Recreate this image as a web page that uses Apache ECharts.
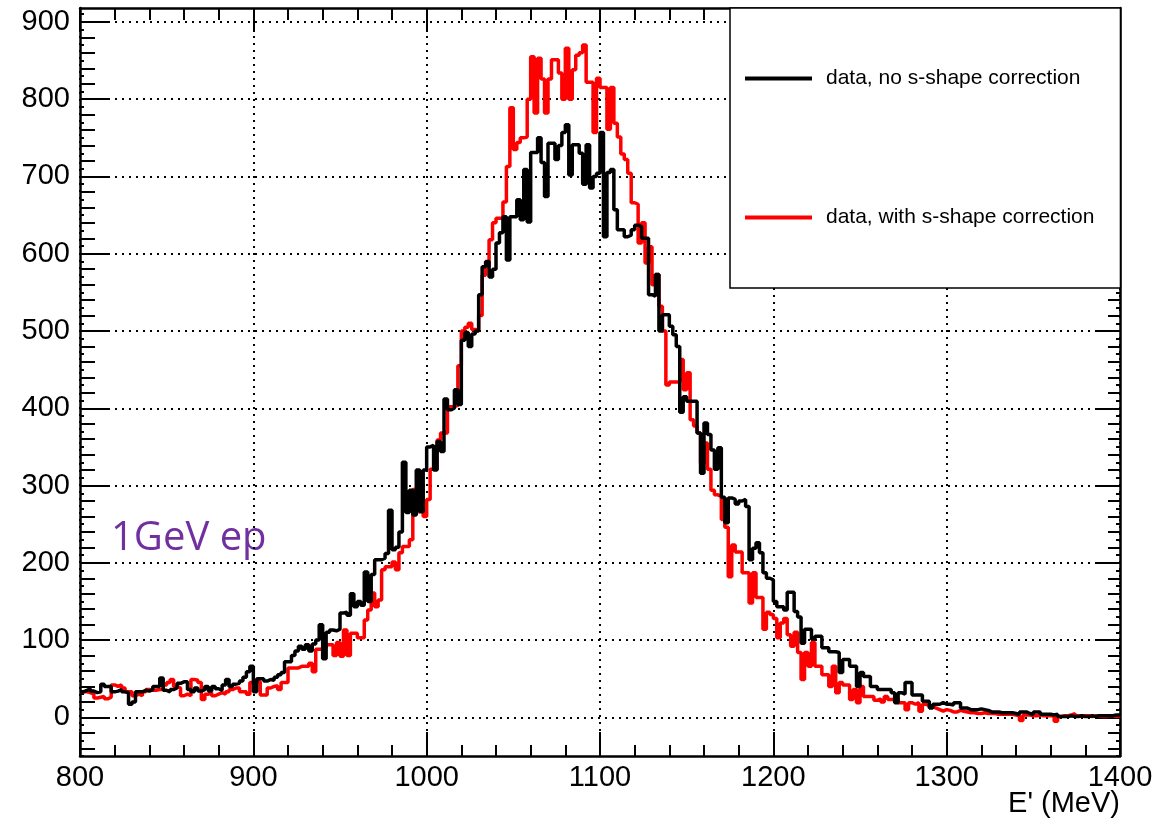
<!DOCTYPE html>
<html>
<head>
<meta charset="utf-8">
<script src="https://cdn.jsdelivr.net/npm/echarts@6/dist/echarts.min.js"></script>
<style>
  html, body { margin: 0; padding: 0; background: #fff; }
  #chart { width: 1176px; height: 820px; }
</style>
</head>
<body>
<div id="chart"></div>
<script>
// Histogram binning: 300 bins of 2 MeV from 800 to 1400 MeV
const E_MIN = 800;
const E_MAX = 1400;
const BIN_WIDTH = 2;

// Counts per bin, data without s-shape correction
const noCorrection = [
  33, 35, 37, 34, 32, 33, 43, 40, 40, 33,
  34, 36, 33, 32, 17, 20, 33, 33, 35, 34,
  36, 40, 40, 51, 35, 33, 36, 38, 44, 46,
  46, 36, 33, 38, 34, 36, 40, 34, 40, 37,
  35, 42, 49, 40, 43, 44, 47, 52, 59, 66,
  33, 50, 50, 47, 49, 48, 52, 55, 58, 72,
  72, 80, 86, 92, 88, 94, 86, 95, 100, 120,
  76, 110, 113, 112, 114, 135, 136, 132, 160, 143,
  150, 145, 188, 150, 185, 204, 204, 206, 212, 268,
  217, 220, 240, 330, 265, 294, 262, 320, 266, 320,
  350, 352, 320, 357, 344, 412, 398, 400, 424, 405,
  488, 498, 480, 496, 500, 547, 583, 590, 570, 580,
  614, 627, 648, 592, 648, 648, 670, 644, 709, 641,
  731, 731, 750, 718, 674, 743, 743, 722, 740, 757,
  767, 702, 741, 741, 730, 690, 741, 685, 700, 704,
  757, 622, 705, 709, 657, 631, 631, 622, 624, 631,
  637, 635, 620, 620, 547, 545, 573, 500, 521, 521,
  506, 495, 480, 395, 415, 409, 409, 409, 368, 316,
  381, 366, 346, 321, 349, 285, 252, 284, 282, 276,
  280, 282, 273, 204, 219, 226, 213, 187, 180, 178,
  150, 143, 143, 139, 162, 162, 137, 130, 96, 114,
  114, 101, 105, 105, 90, 90, 85, 85, 84, 58,
  75, 75, 66, 66, 40, 58, 53, 53, 40, 40,
  36, 36, 36, 36, 32, 19, 32, 30, 45, 45,
  29, 29, 29, 21, 21, 12, 17, 17, 19, 17,
  17, 16, 19, 19, 12, 12, 10, 10, 10, 11,
  10, 9, 7, 7, 7, 6, 6, 6, 6, 5,
  4, 7, 7, 5, 4, 7, 7, 4, 4, 4,
  3, 4, 1, 1, 1, 2, 1, 1, 2, 1,
  1, 2, 1, 2, 2, 2, 2, 2, 3, 3
];

// Counts per bin, data with s-shape correction
const withCorrection = [
  33, 33, 32, 30, 25, 26, 27, 24, 26, 42,
  40, 42, 38, 33, 33, 28, 30, 28, 33, 36,
  35, 35, 36, 36, 42, 45, 49, 40, 38, 28,
  30, 28, 49, 48, 45, 23, 30, 32, 28, 30,
  32, 30, 33, 36, 38, 38, 33, 33, 30, 45,
  46, 46, 29, 29, 38, 40, 41, 36, 45, 45,
  64, 64, 64, 66, 66, 66, 70, 59, 88, 88,
  90, 94, 94, 80, 97, 79, 113, 80, 109, 109,
  103, 103, 126, 139, 161, 143, 152, 191, 195, 195,
  201, 191, 213, 221, 221, 230, 295, 266, 295, 260,
  282, 321, 321, 359, 368, 368, 402, 402, 404, 455,
  500, 505, 510, 502, 500, 520, 572, 583, 618, 640,
  646, 646, 667, 713, 789, 735, 744, 750, 751, 800,
  855, 782, 853, 826, 782, 826, 851, 851, 834, 800,
  866, 800, 838, 857, 860, 870, 822, 822, 757, 827,
  815, 815, 761, 815, 769, 751, 729, 722, 704, 666,
  664, 614, 640, 588, 609, 560, 573, 532, 500, 430,
  434, 434, 434, 463, 424, 446, 385, 377, 368, 329,
  355, 321, 294, 288, 286, 256, 246, 182, 223, 214,
  214, 187, 187, 148, 187, 155, 155, 114, 136, 133,
  128, 103, 122, 128, 107, 92, 110, 84, 49, 84,
  66, 97, 66, 66, 55, 55, 40, 66, 32, 45,
  42, 42, 23, 36, 19, 40, 27, 27, 27, 22,
  24, 20, 27, 23, 23, 23, 19, 19, 10, 19,
  17, 19, 8, 17, 15, 14, 12, 10, 8, 10,
  9, 7, 7, 9, 8, 7, 6, 6, 5, 5,
  6, 5, 5, 5, 4, 4, 4, 4, 4, 3,
  2, -4, 3, 3, 2, 2, 3, 2, 2, 2,
  2, -5, 1, 2, 2, 3, 5, 2, 2, 2,
  2, 1, 2, 2, 1, 1, 2, 2, 1, 2
];

const seriesNames = ['data, no s-shape correction', 'data, with s-shape correction'];

// Axis ranges and tick labels
const Y_MIN = -50;
const Y_MAX = 918;
const xTicks = [800, 900, 1000, 1100, 1200, 1300, 1400];
const yTicks = [0, 100, 200, 300, 400, 500, 600, 700, 800, 900];

function stepValues(from, to, step) {
  const out = [];
  for (let v = from; v <= to; v += step) out.push(v);
  return out;
}
const yTicks20 = stepValues(-40, 900, 20);
const yTicks10 = stepValues(-50, 910, 10);

// Turn bin contents into [lowEdge, count] pairs, closing the last bin at E_MAX
function histPoints(counts) {
  const pts = counts.map((c, i) => [E_MIN + i * BIN_WIDTH, c]);
  pts.push([E_MAX, counts[counts.length - 1]]);
  return pts;
}

const FONT = '"Liberation Sans", Arial, Helvetica, sans-serif';
const dotted = { color: '#000', width: 2, type: [2, 5] };
const plain = (v) => String(v);

function yTickAxis(position, values, length, withLine) {
  return {
    type: 'value', position: position, min: Y_MIN, max: Y_MAX, splitNumber: 10,
    axisLine: { show: withLine, lineStyle: { color: '#000', width: 2.5 } },
    axisTick: { show: true, inside: true, length: length, customValues: values,
                lineStyle: { color: '#000', width: 2 } },
    axisLabel: { show: false },
    splitLine: { show: false }
  };
}

const chart = echarts.init(document.getElementById('chart'), null, { renderer: 'canvas' });

chart.setOption({
  animation: false,
  backgroundColor: '#fff',
  grid: { left: 80, right: 56, top: 8, bottom: 64, containLabel: false },
  xAxis: [
    {
      type: 'value', position: 'bottom', min: E_MIN, max: E_MAX, interval: 100,
      axisLine: { show: true, onZero: false, lineStyle: { color: '#000', width: 2.5 } },
      axisTick: { show: true, inside: true, length: 24, lineStyle: { color: '#000', width: 2 } },
      minorTick: { show: true, splitNumber: 5, length: 11, lineStyle: { color: '#000', width: 2 } },
      axisLabel: { show: true, customValues: xTicks, formatter: plain, margin: 7,
                   color: '#000', fontSize: 29, fontFamily: FONT },
      splitLine: { show: true, lineStyle: dotted }
    },
    {
      type: 'value', position: 'top', min: E_MIN, max: E_MAX, interval: 100,
      axisLine: { show: true, onZero: false, lineStyle: { color: '#000', width: 2.5 } },
      axisTick: { show: true, inside: true, length: 24, lineStyle: { color: '#000', width: 2 } },
      minorTick: { show: true, splitNumber: 5, length: 12, lineStyle: { color: '#000', width: 2 } },
      axisLabel: { show: false },
      splitLine: { show: false }
    }
  ],
  yAxis: [
    {
      type: 'value', position: 'left', min: Y_MIN, max: Y_MAX, splitNumber: 10,
      axisLine: { show: true, onZero: false, lineStyle: { color: '#000', width: 2.5 } },
      axisTick: { show: true, inside: true, length: 30, customValues: yTicks,
                  lineStyle: { color: '#000', width: 2 } },
      axisLabel: { show: true, customValues: yTicks, formatter: plain, margin: 10,
                   color: '#000', fontSize: 29, fontFamily: FONT },
      splitLine: { show: true, lineStyle: dotted }
    },
    yTickAxis('left', yTicks20, 15, false),
    yTickAxis('left', yTicks10, 4, false),
    yTickAxis('right', yTicks, 24, true),
    yTickAxis('right', yTicks20, 12, false),
    yTickAxis('right', yTicks10, 4, false)
  ],
  legend: {
    left: 730, top: 8, orient: 'vertical',
    padding: [60, 26, 60, 15], itemGap: 118,
    itemWidth: 67, itemHeight: 4, icon: 'rect',
    backgroundColor: '#fff', borderColor: '#000', borderWidth: 1.5, borderRadius: 0,
    textStyle: { color: '#000', fontSize: 21, fontFamily: FONT, padding: [0, 0, 0, 9] },
    data: seriesNames,
    selectedMode: false
  },
  graphic: [
    {
      type: 'text', left: 111, top: 519, silent: true,
      style: { text: '1GeV ep', fill: '#7030A0', font: '40px "Open Sans", "Noto Sans", sans-serif' }
    },
    {
      type: 'text', right: 56, top: 789, silent: true,
      style: { text: "E' (MeV)", fill: '#000', font: '29px ' + FONT }
    }
  ],
  series: [
    {
      name: seriesNames[1], type: 'line', step: 'end', xAxisIndex: 0, yAxisIndex: 0,
      data: histPoints(withCorrection), symbol: 'none', showSymbol: false,
      lineStyle: { color: '#ff0000', width: 3.5 }, itemStyle: { color: '#ff0000' }, z: 3
    },
    {
      name: seriesNames[0], type: 'line', step: 'end', xAxisIndex: 0, yAxisIndex: 0,
      data: histPoints(noCorrection), symbol: 'none', showSymbol: false,
      lineStyle: { color: '#000000', width: 3.5 }, itemStyle: { color: '#000000' }, z: 4
    }
  ]
});
</script>
</body>
</html>
